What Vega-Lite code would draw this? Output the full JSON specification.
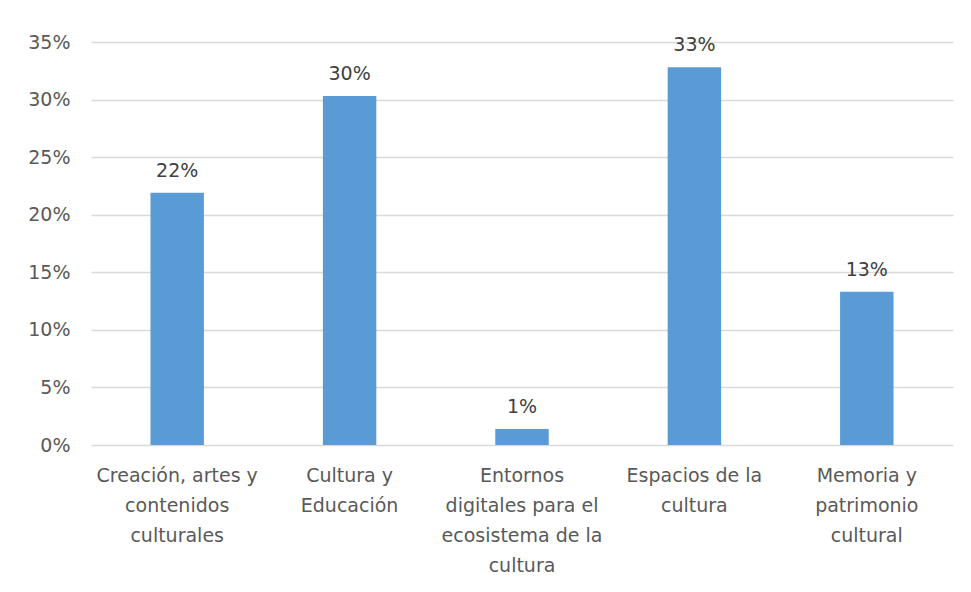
{
  "$schema": "https://vega.github.io/schema/vega-lite/v6.json",
  "autosize": "none",
  "width": 862,
  "height": 403,
  "padding": {"left": 91, "top": 42, "right": 18, "bottom": 147},
  "background": "white",
  "config": {
    "view": {"stroke": null},
    "font": "DejaVu Sans",
    "axis": {"labelFont": "DejaVu Sans", "labelColor": "#595959", "labelFontSize": 19, "gridColor": "#D9D9D9", "gridWidth": 1.5}
  },
  "data": {
    "values": [
      {"cat": "Creación, artes y|contenidos|culturales", "value": 0.219},
      {"cat": "Cultura y|Educación", "value": 0.303},
      {"cat": "Entornos|digitales para el|ecosistema de la|cultura", "value": 0.014},
      {"cat": "Espacios de la|cultura", "value": 0.328},
      {"cat": "Memoria y|patrimonio|cultural", "value": 0.133}
    ]
  },
  "encoding": {
    "x": {
      "field": "cat", "type": "nominal", "sort": null,
      "scale": {"paddingInner": 0.69, "paddingOuter": 0.345},
      "axis": {"title": null, "labelAngle": 0, "ticks": false, "domain": false, "labelPadding": 21, "labelExpr": "split(datum.label, '|')", "labelLineHeight": 30, "labelBaseline": "top", "labelLimit": 300}
    },
    "y": {
      "field": "value", "type": "quantitative",
      "scale": {"domain": [0, 0.35]},
      "axis": {"title": null, "format": ".0%", "values": [0, 0.05, 0.1, 0.15, 0.2, 0.25, 0.3, 0.35], "ticks": false, "domain": false, "labelPadding": 21}
    }
  },
  "layer": [
    {"mark": {"type": "bar", "color": "#5B9BD5"}},
    {"mark": {"type": "text", "baseline": "bottom", "dy": -12, "fontSize": 19, "color": "#404040", "font": "DejaVu Sans"},
     "encoding": {"text": {"field": "value", "type": "quantitative", "format": ".0%"}}}
  ]
}
